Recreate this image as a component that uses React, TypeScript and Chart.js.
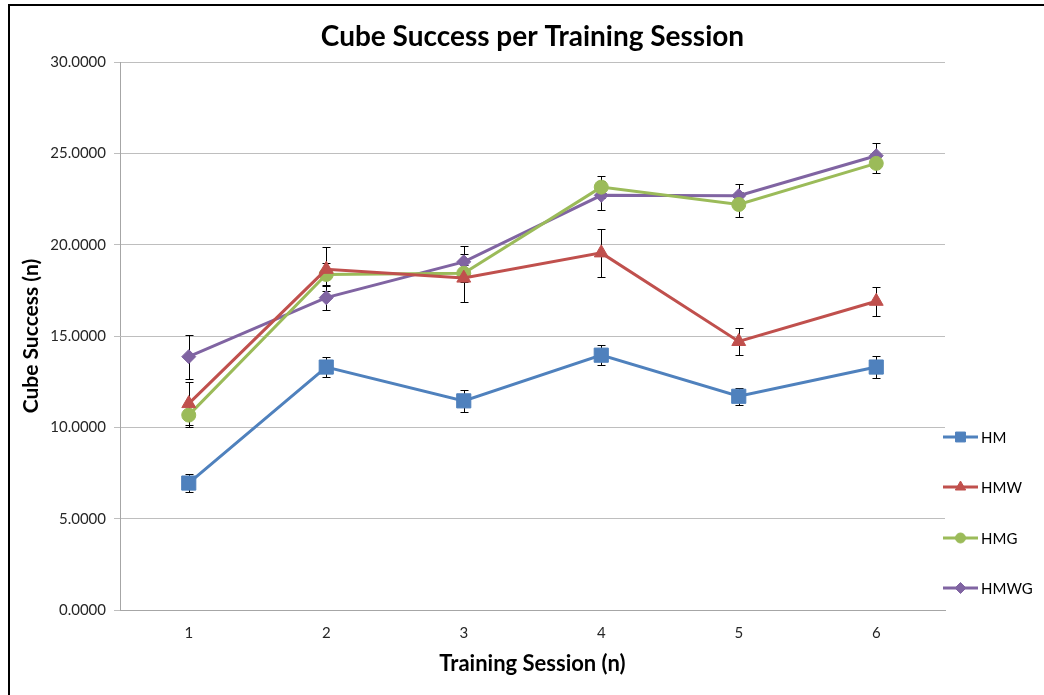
import React, { useEffect, useRef } from "react";
import { Chart, registerables } from "chart.js";
import { drawPoint } from "chart.js/helpers";

Chart.register(...registerables);

// ---- data ----
const sessions = ["1", "2", "3", "4", "5", "6"];
const yTickMin = 0;
const yTickMax = 30;
const yTickStep = 5;

const hmValues = [6.95, 13.3, 11.45, 13.95, 11.7, 13.3];
const hmErrors = [0.5, 0.55, 0.6, 0.55, 0.45, 0.6];
const hmwValues = [11.3, 18.65, 18.17, 19.55, 14.7, 16.9];
const hmwErrors = [1.18, 1.2, 1.3, 1.3, 0.72, 0.8];
const hmgValues = [10.67, 18.37, 18.43, 23.15, 22.2, 24.45];
const hmgErrors = [0.63, 0.6, 0.45, 0.6, 0.7, 0.55];
const hmwgValues = [13.87, 17.1, 19.06, 22.7, 22.68, 24.87];
const hmwgErrors = [1.2, 0.65, 0.86, 0.78, 0.65, 0.7];

const FONT = "Lato, 'Open Sans', 'DejaVu Sans', sans-serif";

const errorBarPlugin = {
  id: "errorBars",
  beforeDatasetsDraw(chart: any) {
    const ctx = chart.ctx;
    const yScale = chart.scales.y;
    ctx.save();
    ctx.strokeStyle = "#000000";
    ctx.lineWidth = 1;
    chart.data.datasets.forEach((ds: any, di: number) => {
      const errs = ds.errorBars;
      if (!errs) return;
      const meta = chart.getDatasetMeta(di);
      meta.data.forEach((pt: any, i: number) => {
        const v = ds.data[i];
        const e = errs[i];
        const top = Math.round(yScale.getPixelForValue(v + e)) + 0.5;
        const bot = Math.round(yScale.getPixelForValue(v - e)) + 0.5;
        const x = Math.round(pt.x) + 0.5;
        ctx.beginPath();
        ctx.moveTo(x, top);
        ctx.lineTo(x, bot);
        ctx.moveTo(x - 4, top);
        ctx.lineTo(x + 4, top);
        ctx.moveTo(x - 4, bot);
        ctx.lineTo(x + 4, bot);
        ctx.stroke();
      });
    });
    ctx.restore();
  },
};

const sideLegendPlugin = {
  id: "sideLegend",
  afterDraw(chart: any) {
    const ctx = chart.ctx;
    const area = chart.chartArea;
    const x0 = area.right - 2;
    const lineLen = 35;
    const firstY = area.bottom - 173;
    const step = 50.4;
    chart.data.datasets.forEach((ds: any, i: number) => {
      const y = Math.round(firstY + i * step);
      ctx.save();
      ctx.strokeStyle = ds.borderColor;
      ctx.lineWidth = 3;
      ctx.beginPath();
      ctx.moveTo(x0, y);
      ctx.lineTo(x0 + lineLen, y);
      ctx.stroke();
      ctx.fillStyle = ds.backgroundColor;
      ctx.strokeStyle = ds.borderColor;
      ctx.lineWidth = 1;
      drawPoint(
        ctx,
        { pointStyle: ds.pointStyle, radius: ds.legendRadius, rotation: 0, borderWidth: 1 } as any,
        x0 + lineLen / 2,
        y
      );
      ctx.fillStyle = "#000000";
      ctx.font = `15px ${FONT}`;
      ctx.textAlign = "left";
      ctx.textBaseline = "middle";
      ctx.fillText(ds.label, x0 + lineLen + 3, y + 1);
      ctx.restore();
    });
  },
};

export default function App() {
  const canvasRef = useRef<HTMLCanvasElement | null>(null);

  useEffect(() => {
    if (!canvasRef.current) return;
    const mk = (label: string, data: number[], errs: number[], color: string, style: string, r: number, lr: number) => ({
      label,
      data,
      errorBars: errs,
      borderColor: color,
      backgroundColor: color,
      pointBackgroundColor: color,
      pointBorderColor: color,
      pointBorderWidth: 1,
      pointStyle: style,
      pointRadius: r,
      legendRadius: lr,
      borderWidth: 3,
      tension: 0,
      fill: false,
    });
    const chart = new Chart(canvasRef.current, {
      type: "line",
      data: {
        labels: sessions,
        datasets: [
          mk("HM", hmValues, hmErrors, "#4F81BD", "rect", 10, 7),
          mk("HMW", hmwValues, hmwErrors, "#C0504D", "triangle", 8, 6),
          mk("HMG", hmgValues, hmgErrors, "#9BBB59", "circle", 7, 5),
          mk("HMWG", hmwgValues, hmwgErrors, "#8064A2", "rectRot", 7, 5.5),
        ] as any,
      },
      options: {
        animation: false,
        responsive: false,
        devicePixelRatio: 1,
        layout: { padding: { left: 8, right: 99, top: 0, bottom: 0 } },
        plugins: {
          legend: { display: false },
          tooltip: { enabled: false },
          title: {
            display: true,
            fullSize: false,
            text: "Cube Success per Training Session",
            color: "#000000",
            font: { family: FONT, size: 28, weight: "bold", lineHeight: 1.2 },
            padding: { top: 20.2, bottom: 8.2 },
          },
        },
        scales: {
          x: {
            type: "category",
            offset: true,
            grid: { display: false, drawTicks: false },
            border: { display: true, color: "#A6A6A6", width: 1 },
            ticks: { color: "#262626", font: { family: FONT, size: 15 }, padding: 14 },
            title: {
              display: true,
              text: "Training Session (n)",
              color: "#000000",
              font: { family: FONT, size: 22, weight: "bold", lineHeight: 1.2 },
              padding: { top: 4, bottom: 18 },
            },
            afterFit: (scale: any) => {
              scale.height = 85;
            },
          },
          y: {
            min: yTickMin,
            max: yTickMax,
            grid: { color: "#BEBEBE", lineWidth: 1, tickLength: 6, drawTicks: true },
            border: { display: true, color: "#A6A6A6", width: 1 },
            ticks: {
              stepSize: yTickStep,
              color: "#262626",
              font: { family: FONT, size: 15 },
              padding: 8,
              callback: (v: any) => Number(v).toFixed(4),
            },
            title: {
              display: true,
              text: "Cube Success (n)",
              color: "#000000",
              font: { family: FONT, size: 21, weight: "bold", lineHeight: 1.2 },
              padding: { top: 10.4, bottom: 0 },
            },
            afterFit: (scale: any) => {
              scale.width = 112;
            },
          },
        },
      } as any,
      plugins: [errorBarPlugin, sideLegendPlugin],
    });
    return () => chart.destroy();
  }, []);

  return (
    <div
      style={{
        position: "fixed",
        left: 0,
        top: 0,
        width: 1044,
        height: 695,
        overflow: "hidden",
        background: "#ffffff",
      }}
    >
      <div
        style={{
          position: "absolute",
          left: 8,
          top: 4,
          width: 1100,
          height: 800,
          border: "2px solid #000000",
          boxSizing: "border-box",
        }}
      />
      <canvas
        ref={canvasRef}
        width={1044}
        height={695}
        style={{ position: "absolute", left: 0, top: 0, width: 1044, height: 695 }}
      />
    </div>
  );
}
